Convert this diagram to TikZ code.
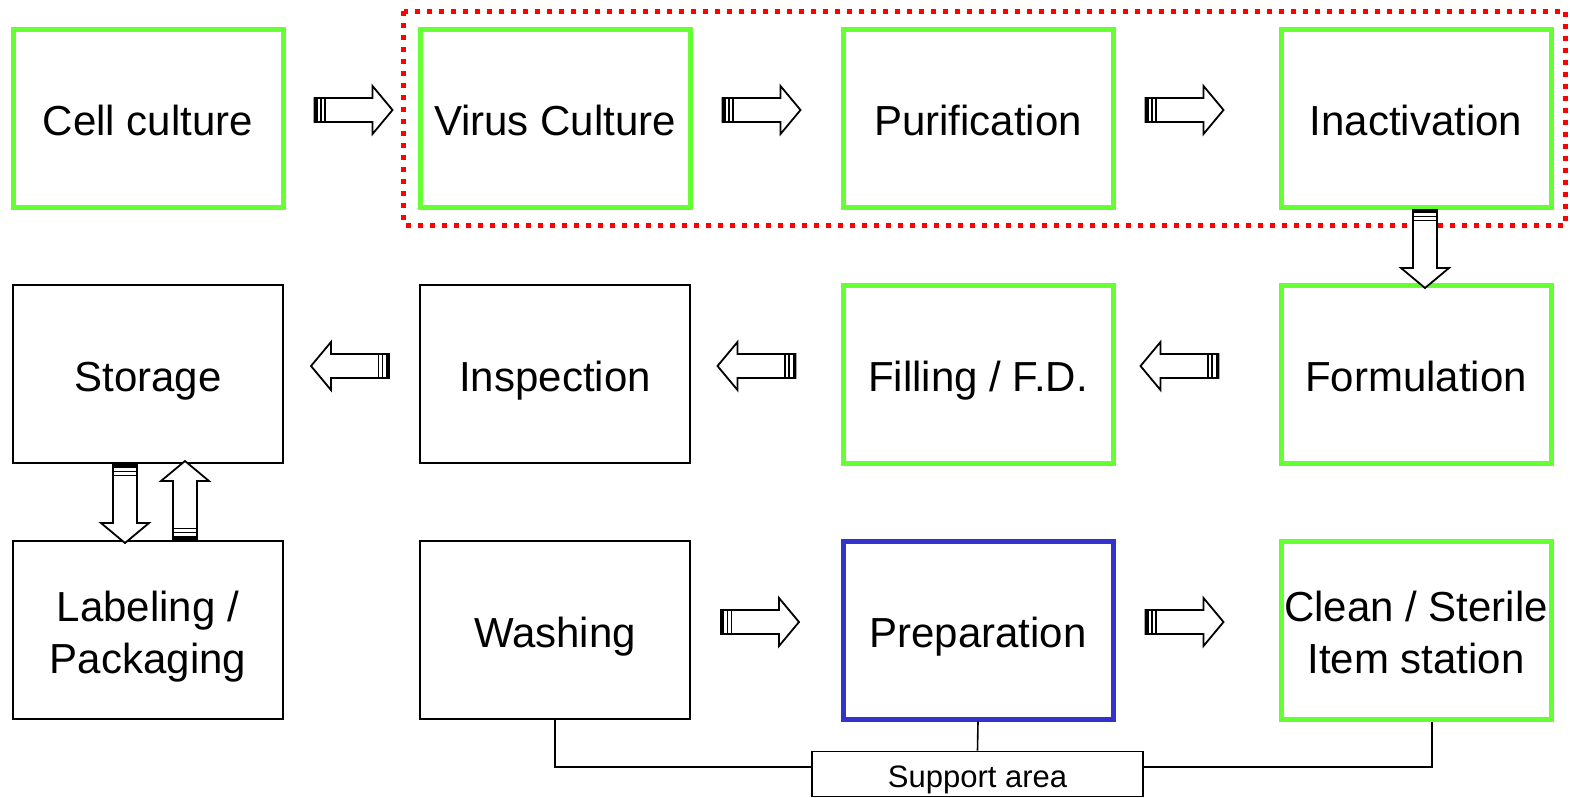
\documentclass[tikz,border=0pt]{standalone}
\usepackage{fontspec}
\setmainfont{Liberation Sans}
\usepackage{tikz}
\usetikzlibrary{positioning,calc}

\definecolor{stepgreen}{HTML}{66FF33}
\definecolor{stepblue}{HTML}{3333CC}
\newcommand{\topstrut}{\rule{0pt}{22pt}}
\newcommand{\botstrut}{\rule[-5pt]{0pt}{5pt}}

\begin{document}
\begin{tikzpicture}[
  x=0.5pt, y=-0.5pt,
  every node/.style={font=\fontsize{21}{26}\selectfont},
  stage/.style={draw, line width=1pt, minimum width=135pt, minimum height=89pt,
                align=center, inner sep=0pt, text height=22pt, text depth=5pt},
  twoline/.style={text height=, text depth=},
  greenstage/.style={stage, draw=stepgreen, line width=2.5pt},
  bluestage/.style={stage, draw=stepblue, line width=2.5pt},
  link/.style={line width=0.8pt},
  stripearrow/.pic={
    \draw[fill=white, line width=0.9pt, line join=miter]
      (0,-12) -- (58,-12) -- (58,-24) -- (78,0) -- (58,24) -- (58,12) -- (0,12) -- cycle;
    \fill (0,-12) rectangle (3,12);
    \draw[line width=0.8pt] (6.5,-12) -- (6.5,12);
    \draw[line width=0.8pt] (10.5,-12) -- (10.5,12);
  }
]
\useasboundingbox (0,0) rectangle (1570,798);

% --- Row 1: upstream ---
\node[greenstage] (cell)   at (148,118)  {Cell culture};
\node[greenstage] (virus)  at (555,118)  {Virus Culture};
\node[greenstage] (purif)  at (978,118)  {Purification};
\node[greenstage] (inact)  at (1416,118) {Inactivation};

% --- Row 2: downstream ---
\node[stage]      (storage) at (148,374)  {Storage};
\node[stage]      (inspect) at (555,374)  {Inspection};
\node[greenstage] (filling) at (978,374)  {Filling / F.D.};
\node[greenstage] (formul)  at (1416,374) {Formulation};

% --- Row 3: support ---
\node[stage, twoline]      (label) at (148,630)  {\topstrut Labeling /\\Packaging\botstrut};
\node[stage]               (wash)  at (555,630)  {Washing};
\node[bluestage]           (prep)  at (978,630)  {Preparation};
\node[greenstage, twoline] (clean) at (1416,630) {\topstrut Clean / Sterile\\Item station\botstrut};

\node[draw, line width=0.8pt, minimum width=165.5pt, minimum height=22.5pt, inner sep=0pt,
      text height=16.5pt, text depth=3.5pt,
      font=\fontsize{15.5}{18}\selectfont] (support) at (977.5,774) {Support area};

% --- Dotted frame round the virus steps ---
\draw[red, line width=2.5pt, dash pattern=on 2.5pt off 3.5pt]
  ($(virus.north west)+(-14,-15.5)$) rectangle ($(inact.south east)+(12,15.5)$);

% --- Block arrows ---
\pic at ($(cell.east)+(29,-8)$)    {stripearrow};
\pic at ($(virus.east)+(30,-8)$)   {stripearrow};
\pic at ($(purif.east)+(30,-8)$)   {stripearrow};
\pic[rotate=-90] at ($(inact.south)+(9,0.5)$) {stripearrow};
\pic[rotate=180] at ($(formul.west)+(-60,-8)$)  {stripearrow};
\pic[rotate=180] at ($(filling.west)+(-45,-8)$) {stripearrow};
\pic[rotate=180] at ($(inspect.west)+(-30,-8)$) {stripearrow};
\pic[rotate=-90] at ($(storage.south)+(-23,1)$) {stripearrow};
\pic[rotate=90]  at ($(label.north)+(37,-1)$)   {stripearrow};
\pic at ($(wash.east)+(30,-8)$)    {stripearrow};
\pic at ($(prep.east)+(30,-8)$)    {stripearrow};

% --- Support area links ---
\draw[link] (wash.south) |- ($(support.west)+(0,-7)$);
\draw[link] (prep.south) -- (support.north);
\draw[link] ($(clean.south)+(16,0)$) |- ($(support.east)+(0,-7)$);

\end{tikzpicture}
\end{document}
